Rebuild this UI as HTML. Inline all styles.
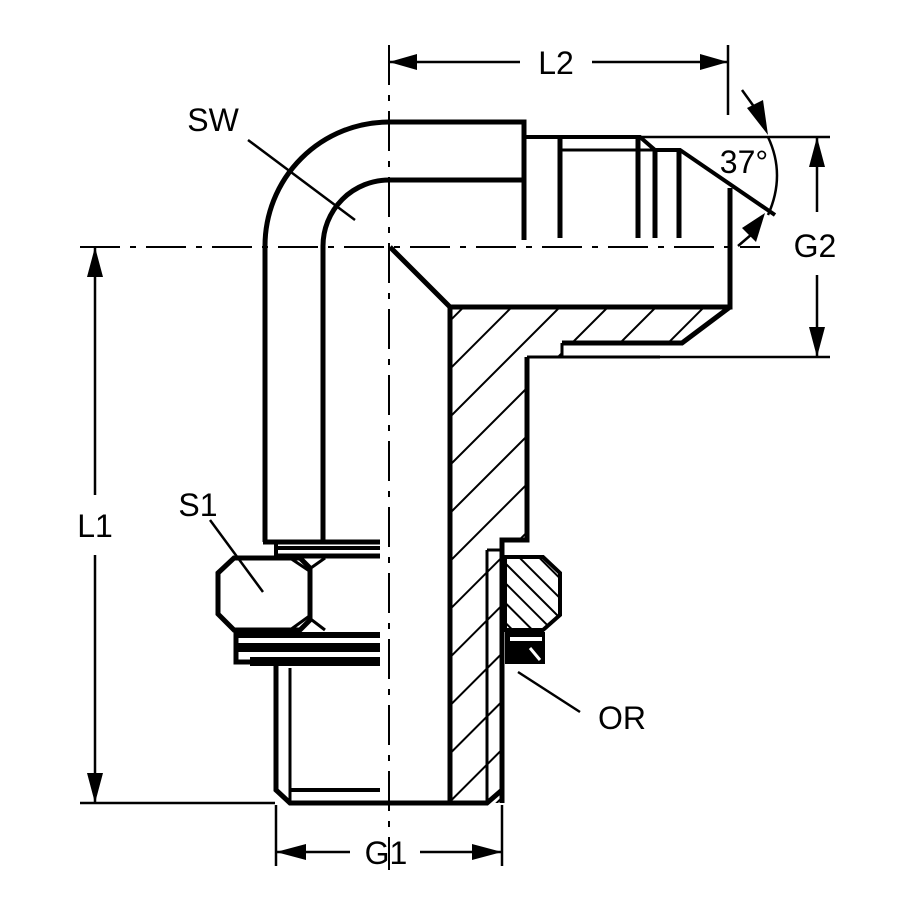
<!DOCTYPE html>
<html><head><meta charset="utf-8"><style>html,body{margin:0;padding:0;background:#fff}svg{display:block}</style></head>
<body>
<svg width="900" height="900" viewBox="0 0 900 900" xmlns="http://www.w3.org/2000/svg">
<defs>
<pattern id="h" patternUnits="userSpaceOnUse" width="34" height="34" patternTransform="rotate(45)">
<line x1="0" y1="0" x2="0" y2="34" stroke="#000" stroke-width="4"/>
</pattern>
<pattern id="h2" patternUnits="userSpaceOnUse" width="14" height="14" patternTransform="rotate(-45)">
<line x1="0" y1="0" x2="0" y2="14" stroke="#000" stroke-width="4"/>
</pattern>
</defs>
<g fill="none" stroke="#000" stroke-linecap="butt">
<line x1="389" y1="45" x2="389" y2="870" stroke-width="2" stroke-dasharray="40,10,6,10"/>
<line x1="80" y1="247" x2="760" y2="247" stroke-width="2" stroke-dasharray="40,10,6,10"/>

<path d="M265 542 V246 A124 124 0 0 1 389 122 H524 V240" stroke-width="5"/>
<path d="M323 542 V246 A66 66 0 0 1 389 180 H524" stroke-width="5"/>
<line x1="263" y1="542" x2="380" y2="542" stroke-width="5"/>

<path d="M450 307 H730 L682 343 H562 V357 H527 V540 H502 V803 H450 Z" fill="url(#h)" stroke="none"/>
<path d="M390 247 L450 307 H730 V188" stroke-width="5"/>
<path d="M730 307 L682 343 H562 M527 357 V540 H502 V803" stroke-width="5"/>
<path d="M450 307 V803" stroke-width="5"/>
<path d="M562 343 V357 M527 357 H660" stroke-width="3"/>
<line x1="487" y1="550" x2="487" y2="803" stroke-width="3"/>
<line x1="487" y1="550" x2="502" y2="550" stroke-width="3"/>

<path d="M524 137 H640 L655 150 H680 L775 215" stroke-width="4"/>
<line x1="560" y1="150" x2="655" y2="150" stroke-width="3"/>
<line x1="560" y1="137" x2="560" y2="238" stroke-width="5"/>
<line x1="638" y1="137" x2="638" y2="238" stroke-width="5"/>
<line x1="655" y1="150" x2="655" y2="238" stroke-width="5"/>
<line x1="679" y1="150" x2="679" y2="238" stroke-width="5"/>

<path d="M276 665 V790 L290 803 H487 L502 790" stroke-width="5"/>
<line x1="290" y1="668" x2="290" y2="803" stroke-width="3"/>
<line x1="290" y1="790" x2="380" y2="790" stroke-width="4"/>

<line x1="276" y1="542" x2="276" y2="557" stroke-width="4"/>
<line x1="276" y1="548" x2="380" y2="548" stroke-width="4"/>
<line x1="278" y1="556" x2="380" y2="556" stroke-width="5"/>
<path d="M234 558 H300 L310 568 V620 L300 630 H234 L218 614 V573 Z" stroke-width="5"/>
<path d="M290 558 L308 570 L325 558 M290 630 L308 617 L325 630" stroke-width="3"/>
<path d="M236 630 V662 H380" stroke-width="5"/>
<rect x="236" y="632" width="144" height="6" fill="#000" stroke="none"/>
<rect x="236" y="643" width="144" height="9" fill="#000" stroke="none"/>
<rect x="250" y="657" width="130" height="9" fill="#000" stroke="none"/>

<path d="M505 557 H543 L560 573 V615 L543 630 H505 Z" fill="url(#h2)" stroke-width="4"/>
<rect x="505" y="632" width="40" height="32" fill="#000" stroke="none"/>
<rect x="510" y="637" width="32" height="4" fill="#fff" stroke="none"/>
<line x1="530" y1="648" x2="540" y2="660" stroke="#fff" stroke-width="3"/>

<line x1="248" y1="140" x2="355" y2="220" stroke-width="2.5"/>
<line x1="210" y1="520" x2="263" y2="592" stroke-width="2.5"/>
<line x1="518" y1="672" x2="580" y2="712" stroke-width="2.5"/>

<line x1="728" y1="45" x2="728" y2="115" stroke-width="2.5"/>
<line x1="640" y1="137" x2="830" y2="137" stroke-width="2.5"/>
<line x1="660" y1="357" x2="830" y2="357" stroke-width="2.5"/>
<line x1="80" y1="803" x2="275" y2="803" stroke-width="2.5"/>
<line x1="276" y1="805" x2="276" y2="866" stroke-width="2.5"/>
<line x1="502" y1="805" x2="502" y2="866" stroke-width="2.5"/>

<line x1="389" y1="62" x2="520" y2="62" stroke-width="2.5"/>
<line x1="592" y1="62" x2="728" y2="62" stroke-width="2.5"/>
<line x1="817" y1="137" x2="817" y2="212" stroke-width="2.5"/>
<line x1="817" y1="275" x2="817" y2="357" stroke-width="2.5"/>
<line x1="95" y1="247" x2="95" y2="495" stroke-width="2.5"/>
<line x1="95" y1="555" x2="95" y2="803" stroke-width="2.5"/>
<line x1="276" y1="852" x2="350" y2="852" stroke-width="2.5"/>
<line x1="420" y1="852" x2="502" y2="852" stroke-width="2.5"/>
<path d="M768 137 Q786 175 768 215" stroke-width="2.5"/>
<line x1="742" y1="90" x2="760" y2="115" stroke-width="2.5"/>
<line x1="738" y1="246" x2="752" y2="234" stroke-width="2.5"/>
</g>
<g fill="#000">
<polygon points="389,62 417,54 417,70"/>
<polygon points="728,62 700,54 700,70"/>
<polygon points="817,137 809,167 825,167"/>
<polygon points="817,357 809,327 825,327"/>
<polygon points="95,247 87,277 103,277"/>
<polygon points="95,803 87,773 103,773"/>
<polygon points="276,852 306,844 306,860"/>
<polygon points="502,852 472,844 472,860"/>
<polygon points="768,135 747,108 763,100"/>
<polygon points="765,213 742,228 756,242"/>
</g>
<g font-family="Liberation Sans, sans-serif" font-size="32" fill="#000" text-anchor="middle">
<text x="556" y="74">L2</text>
<text x="213" y="131">SW</text>
<text x="744" y="173">37°</text>
<text x="815" y="257">G2</text>
<text x="95" y="537">L1</text>
<text x="198" y="516">S1</text>
<text x="622" y="729">OR</text>
<text x="386" y="864">G1</text>
</g>
</svg>
</body></html>
